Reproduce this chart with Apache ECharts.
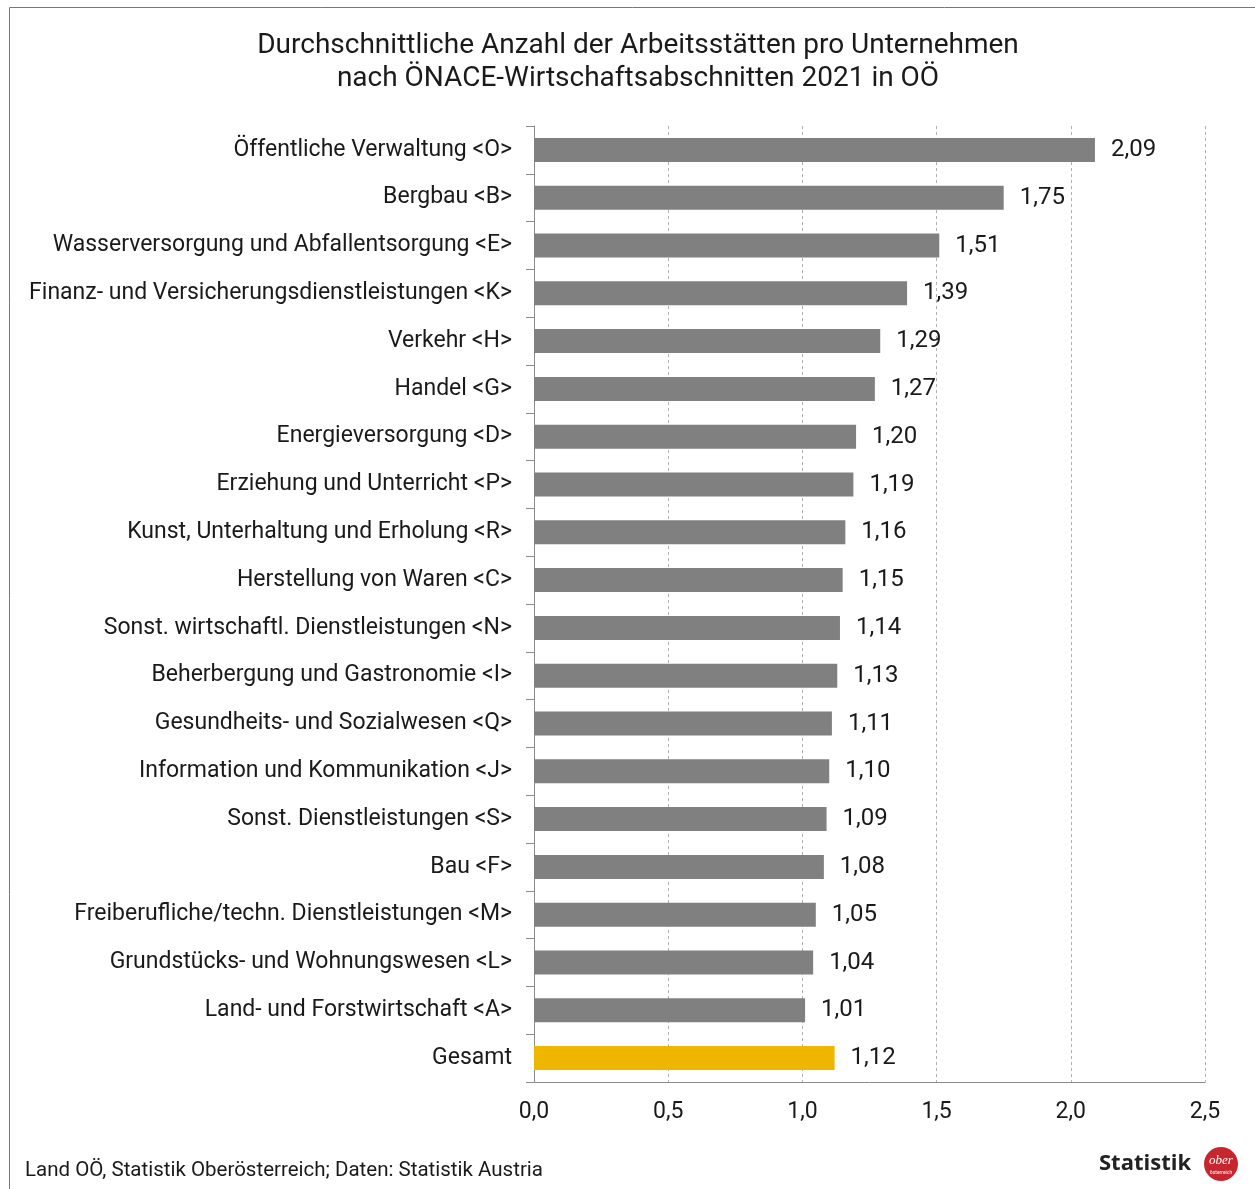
<!DOCTYPE html>
<html>
<head>
<meta charset="utf-8">
<script src="https://cdn.jsdelivr.net/npm/echarts@6/dist/echarts.min.js"></script>
<style>
  html, body { margin: 0; padding: 0; background: #fff; }
  #main { width: 1255px; height: 1189px; }
</style>
</head>
<body>
<div id="main"></div>
<script>
const categories = [
  'Öffentliche Verwaltung <O>',
  'Bergbau <B>',
  'Wasserversorgung und Abfallentsorgung <E>',
  'Finanz- und Versicherungsdienstleistungen <K>',
  'Verkehr <H>',
  'Handel <G>',
  'Energieversorgung <D>',
  'Erziehung und Unterricht <P>',
  'Kunst, Unterhaltung und Erholung <R>',
  'Herstellung von Waren <C>',
  'Sonst. wirtschaftl. Dienstleistungen <N>',
  'Beherbergung und Gastronomie <I>',
  'Gesundheits- und Sozialwesen <Q>',
  'Information und Kommunikation <J>',
  'Sonst. Dienstleistungen <S>',
  'Bau <F>',
  'Freiberufliche/techn. Dienstleistungen <M>',
  'Grundstücks- und Wohnungswesen <L>',
  'Land- und Forstwirtschaft <A>',
  'Gesamt'
];
const values = [2.09, 1.75, 1.51, 1.39, 1.29, 1.27, 1.20, 1.19, 1.16, 1.15,
  1.14, 1.13, 1.11, 1.10, 1.09, 1.08, 1.05, 1.04, 1.01, 1.12];
const highlight = 'Gesamt';

const FONT = 'Roboto, "Open Sans", sans-serif';
const fmt = v => v.toFixed(2).replace('.', ',');

const chart = echarts.init(document.getElementById('main'));
chart.setOption({
  backgroundColor: '#fff',
  animation: false,
  title: {
    text: 'Durchschnittliche Anzahl der Arbeitsstätten pro Unternehmen\nnach ÖNACE-Wirtschaftsabschnitten 2021 in OÖ',
    left: 633,
    top: 24,
    textAlign: 'center',
    textStyle: { fontFamily: FONT, fontSize: 28, fontWeight: 'normal', color: '#1a1a1a', lineHeight: 33 }
  },
  grid: { left: 534, right: 50, top: 126, bottom: 107, containLabel: false },
  xAxis: {
    type: 'value',
    min: 0, max: 2.5, interval: 0.5,
    axisLine: { show: true, lineStyle: { color: '#8c8c8c', width: 1 } },
    axisTick: { show: false },
    axisLabel: { fontFamily: FONT, fontSize: 23, color: '#1a1a1a', margin: 19, formatter: v => v.toFixed(1).replace('.', ',') },
    splitLine: { show: true, lineStyle: { color: '#b0b0b0', type: [3, 3], width: 1 } }
  },
  yAxis: {
    type: 'category',
    inverse: true,
    data: categories,
    axisLine: { show: true, lineStyle: { color: '#8c8c8c', width: 1 } },
    axisTick: { show: true, length: 8, lineStyle: { color: '#8c8c8c' } },
    axisLabel: { fontFamily: FONT, fontSize: 23, color: '#1a1a1a', margin: 22, padding: [7, 0, 0, 0] }
  },
  series: [{
    type: 'bar',
    barWidth: 24,
    data: values.map((v, i) => ({
      value: v,
      itemStyle: { color: categories[i] === highlight ? '#EFB600' : '#808080' }
    })),
    label: {
      show: true,
      position: 'right',
      distance: 16,
      fontFamily: FONT,
      fontSize: 24,
      color: '#1a1a1a',
      padding: [7, 0, 0, 0],
      formatter: p => fmt(p.value)
    }
  }],
  graphic: [
    { type: 'rect', shape: { x: 9.5, y: 7.5, width: 1400, height: 1400 }, style: { fill: 'none', stroke: '#777', lineWidth: 1 }, silent: true },
    { type: 'text', left: 25, top: 1160, style: { text: 'Land OÖ, Statistik Oberösterreich; Daten: Statistik Austria', fontFamily: FONT, fontSize: 20.5, fill: '#1a1a1a' } },
    { type: 'text', left: 1099, top: 1153, style: { text: 'Statistik', fontFamily: '"Open Sans", sans-serif', fontWeight: 'bold', fontSize: 22, fill: '#222' } },
    { type: 'circle', shape: { cx: 1221, cy: 1164, r: 17 }, style: { fill: '#C7262E' } },
    { type: 'text', x: 1221, y: 1161, style: { text: 'ober', fontFamily: 'serif', fontStyle: 'italic', fontSize: 13, fill: '#fff', align: 'center', verticalAlign: 'middle' } },
    { type: 'text', x: 1221, y: 1173, style: { text: 'österreich', fontFamily: FONT, fontSize: 5, fill: '#fff', align: 'center', verticalAlign: 'middle' } }
  ]
});
</script>
</body>
</html>
